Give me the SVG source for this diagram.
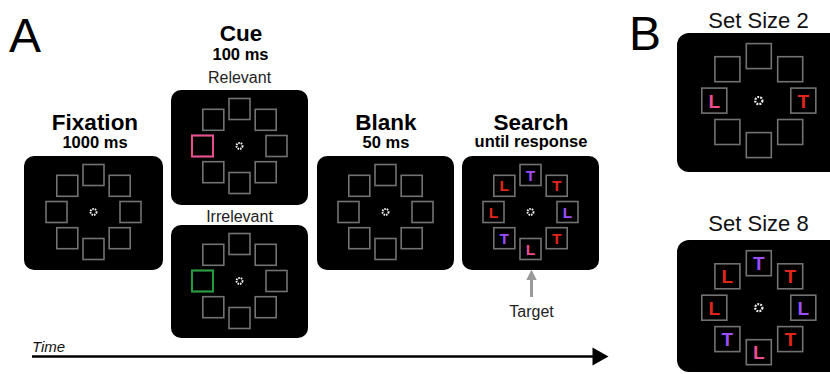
<svg xmlns="http://www.w3.org/2000/svg" xmlns:xlink="http://www.w3.org/1999/xlink" width="830" height="374" viewBox="0 0 830 374">
<style>
.panel{fill:#000}
.box{fill:none;stroke:#727272;stroke-width:1.6}
.title{font-family:"Liberation Sans",Arial,sans-serif;font-weight:bold;font-size:22.5px;text-anchor:middle;fill:#000}
.sub{font-family:"Liberation Sans",Arial,sans-serif;font-weight:bold;font-size:16.5px;text-anchor:middle;fill:#000}
.lab{font-family:"Liberation Sans",Arial,sans-serif;font-size:16px;text-anchor:middle;fill:#222}
.big{font-family:"Liberation Sans",Arial,sans-serif;font-size:48px;fill:#000}
.let{font-family:"Liberation Sans",Arial,sans-serif;font-weight:bold;font-size:15.5px;text-anchor:middle}
.letB{font-family:"Liberation Sans",Arial,sans-serif;font-weight:bold;font-size:19px;text-anchor:middle}
.red{fill:#e3251b}.pur{fill:#9b4dff}.pnk{fill:#ef4b8f}
</style>
<defs>
<g id="ring">
<rect class="box" x="-10.5" y="-47.5" width="21" height="21"/>
<rect class="box" x="15.7" y="-36.7" width="21" height="21"/>
<rect class="box" x="26.5" y="-10.5" width="21" height="21"/>
<rect class="box" x="15.7" y="15.7" width="21" height="21"/>
<rect class="box" x="-10.5" y="26.5" width="21" height="21"/>
<rect class="box" x="-36.7" y="15.7" width="21" height="21"/>
<rect class="box" x="-47.5" y="-10.5" width="21" height="21"/>
<rect class="box" x="-36.7" y="-36.7" width="21" height="21"/>
<circle cx="0" cy="0" r="3" fill="none" stroke="#eee" stroke-width="1.9" stroke-dasharray="1.6 0.9"/>
</g>
<g id="ringB">
<rect class="box" x="-12.5" y="-57" width="25" height="25"/>
<rect class="box" x="18.9" y="-43.9" width="25" height="25"/>
<rect class="box" x="32" y="-12.5" width="25" height="25"/>
<rect class="box" x="18.9" y="18.9" width="25" height="25"/>
<rect class="box" x="-12.5" y="32" width="25" height="25"/>
<rect class="box" x="-43.9" y="18.9" width="25" height="25"/>
<rect class="box" x="-57" y="-12.5" width="25" height="25"/>
<rect class="box" x="-43.9" y="-43.9" width="25" height="25"/>
<circle cx="0" cy="0" r="3.6" fill="none" stroke="#eee" stroke-width="2.2" stroke-dasharray="1.9 1.1"/>
</g>
<marker id="tgt" viewBox="0 0 10 10" refX="5" refY="5" markerWidth="3.6" markerHeight="3.6" orient="auto">
<path d="M0,0 L10,5 L0,10 z" fill="#999"/>
</marker>
</defs>

<text class="big" x="9" y="51.5">A</text>
<text class="big" x="629" y="50">B</text>

<g id="fixation">
<text class="title" x="95" y="129.5">Fixation</text>
<text class="sub" x="95" y="147.5">1000 ms</text>
<rect class="panel" x="24" y="156" width="139" height="114" rx="10"/>
<use xlink:href="#ring" href="#ring" transform="translate(93.5,212)"/>
</g>

<g id="cue-relevant">
<text class="title" x="241" y="41">Cue</text>
<text class="sub" x="240.5" y="60">100 ms</text>
<text class="lab" x="239.5" y="82.5">Relevant</text>
<rect class="panel" x="171" y="90" width="137" height="115" rx="10"/>
<use xlink:href="#ring" href="#ring" transform="translate(239.5,146)"/>
<rect x="192" y="135.5" width="21" height="21" fill="none" stroke="#ef4b8f" stroke-width="1.9"/>
</g>

<g id="cue-irrelevant">
<text class="lab" x="239.5" y="221.5">Irrelevant</text>
<rect class="panel" x="171" y="225" width="137" height="113" rx="10"/>
<use xlink:href="#ring" href="#ring" transform="translate(239.5,281)"/>
<rect x="192" y="270.5" width="21" height="21" fill="none" stroke="#1fa03a" stroke-width="1.9"/>
</g>

<g id="blank">
<text class="title" x="386" y="129.5">Blank</text>
<text class="sub" x="386" y="147.5">50 ms</text>
<rect class="panel" x="317" y="156" width="137" height="114" rx="10"/>
<use xlink:href="#ring" href="#ring" transform="translate(385.5,212)"/>
</g>

<g id="search">
<text class="title" x="531" y="129.5">Search</text>
<text class="sub" x="531" y="146.5">until response</text>
<rect class="panel" x="462" y="156" width="137" height="114" rx="10"/>
<use xlink:href="#ring" href="#ring" transform="translate(530.5,212)"/>
<g transform="translate(530.5,217.6)">
<text class="let pur" x="0" y="-37">T</text>
<text class="let red" x="26.2" y="-26.2">T</text>
<text class="let pur" x="37" y="0">L</text>
<text class="let red" x="26.2" y="26.2">T</text>
<text class="let pnk" x="0" y="37">L</text>
<text class="let pur" x="-26.2" y="26.2">T</text>
<text class="let red" x="-37" y="0">L</text>
<text class="let red" x="-26.2" y="-26.2">L</text>
</g>
</g>

<g id="target">
<line x1="531.5" y1="297" x2="531.5" y2="275" stroke="#999" stroke-width="3" marker-end="url(#tgt)"/>
<text class="lab" x="531.5" y="316.5">Target</text>
</g>

<g id="set-size-2">
<text class="lab" x="758.5" y="28" style="font-size:22px;fill:#111">Set Size 2</text>
<rect class="panel" x="677" y="33" width="170" height="139" rx="12"/>
<use xlink:href="#ringB" href="#ringB" transform="translate(758.8,100.6)"/>
<g transform="translate(758.8,107.5)">
<text class="letB pnk" x="-44.5" y="0">L</text>
<text class="letB red" x="44.5" y="0">T</text>
</g>
</g>

<g id="set-size-8">
<text class="lab" x="758.5" y="231" style="font-size:22px;fill:#111">Set Size 8</text>
<rect class="panel" x="677" y="240" width="170" height="132" rx="12"/>
<use xlink:href="#ringB" href="#ringB" transform="translate(758.8,307.7)"/>
<g transform="translate(758.8,314.6)">
<text class="letB pur" x="0" y="-44.5">T</text>
<text class="letB red" x="31.5" y="-31.5">T</text>
<text class="letB pur" x="44.5" y="0">L</text>
<text class="letB red" x="31.5" y="31.5">T</text>
<text class="letB pnk" x="0" y="44.5">L</text>
<text class="letB pur" x="-31.5" y="31.5">T</text>
<text class="letB red" x="-44.5" y="0">L</text>
<text class="letB red" x="-31.5" y="-31.5">L</text>
</g>
</g>

<g id="connectors">
<text x="32" y="351.5" style="font-family:'Liberation Sans',Arial,sans-serif;font-style:italic;font-size:15px;fill:#111">Time</text>
<line x1="32" y1="356.5" x2="594" y2="356.5" stroke="#000" stroke-width="2.6"/>
<path d="M592.5,347.5 L608.5,356.5 L592.5,365.5 z" fill="#000"/>
</g>
</svg>
